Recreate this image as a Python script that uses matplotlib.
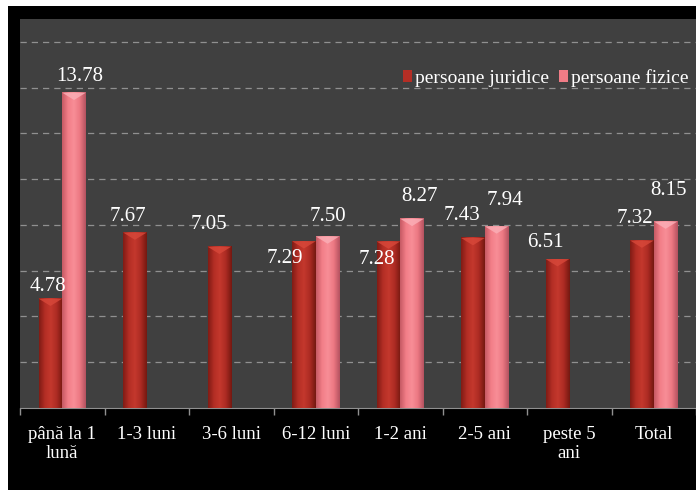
import numpy as np
import matplotlib.pyplot as plt
from matplotlib.colors import LinearSegmentedColormap
from matplotlib.patches import Rectangle, Polygon

categorii = ['până la 1\nlună', '1-3 luni', '3-6 luni', '6-12 luni',
             '1-2 ani', '2-5 ani', 'peste 5\nani', 'Total']
juridice = [4.78, 7.67, 7.05, 7.29, 7.28, 7.43, 6.51, 7.32]
fizice = [13.78, np.nan, np.nan, 7.50, 8.27, 7.94, np.nan, 8.15]
serii = ['persoane juridice', 'persoane fizice']

# pozitia etichetelor fata de varful barei (pixeli)
off_jur = [(-2, 12), (-7, 16), (-10, 22), (-19, -17), (-12, -18), (-11, 22), (-12, 17), (-7, 22)]
off_fiz = [(6, 16), None, None, (0, 20), (7, 22), (8, 26), None, (3, 31)]

plt.rcParams['font.family'] = ['Liberation Serif', 'DejaVu Serif']

fig = plt.figure(figsize=(6.96, 4.90), dpi=100, facecolor='white')
fig.patches.append(Rectangle((8 / 696, 0), 1 - 8 / 696, 484 / 490, transform=fig.transFigure,
                             facecolor='black', edgecolor='none', zorder=-5))
ax = fig.add_axes([20 / 696, 82 / 490, 676 / 696, 389 / 490])
ax.set_zorder(2)
ax.set_facecolor('#404040')

x = np.arange(len(categorii))
w = 0.28
b1 = ax.bar(x - w / 2, juridice, w, color='#b42e25', label=serii[0], zorder=2)
b2 = ax.bar(x + w / 2, fizice, w, color='#f07c86', label=serii[1], zorder=2)

cm_jur = LinearSegmentedColormap.from_list('j', ['#801c15', '#b42e25', '#c4382d', '#ac2b23', '#741811'])
cm_fiz = LinearSegmentedColormap.from_list('f', ['#c65a64', '#f27e88', '#f88e97', '#ec7882', '#b45260'])
grad = np.linspace(0, 1, 64).reshape(1, -1)

for bars, cm, cap in [(b1, cm_jur, '#d8483a'), (b2, cm_fiz, '#fbb0b8')]:
    for p in bars:
        h = p.get_height()
        if np.isnan(h):
            continue
        x0, x1 = p.get_x(), p.get_x() + p.get_width()
        ax.imshow(grad, extent=[x0, x1, 0, h], aspect='auto', cmap=cm, zorder=3)
        ax.add_patch(Polygon([(x0, h), (x1, h), ((x0 + x1) / 2, h - 0.32)],
                             closed=True, facecolor=cap, edgecolor='none', alpha=0.8, zorder=4))

for i in range(len(categorii)):
    ax.annotate(f'{juridice[i]:.2f}', (x[i] - w / 2, juridice[i]), xytext=off_jur[i],
                textcoords='offset pixels', ha='center', va='center', color='white', fontsize=15)
    if off_fiz[i] is not None:
        ax.annotate(f'{fizice[i]:.2f}', (x[i] + w / 2, fizice[i]), xytext=off_fiz[i],
                    textcoords='offset pixels', ha='center', va='center', color='white', fontsize=15)

ax.set_xlim(-0.5, len(categorii) - 0.5)
ax.set_ylim(0, 17)
ax.set_yticks(np.arange(2, 17, 2))
ax.yaxis.grid(True, linestyle=(0, (5, 4)), color='#909090', linewidth=0.9)
ax.set_axisbelow(True)
ax.tick_params(axis='y', left=False, labelleft=False)

ax.set_xticks(x)
ax.set_xticklabels(categorii, color='white', fontsize=13.5, linespacing=1.15)
ax.set_xticks(np.arange(-0.5, len(categorii)), minor=True)
ax.tick_params(axis='x', which='major', length=0, pad=13)
ax.tick_params(axis='x', which='minor', length=5, color='#909090', width=1)

for s in ['top', 'right', 'left']:
    ax.spines[s].set_visible(False)
ax.spines['bottom'].set_color('#909090')

leg = ax.legend(loc='center left', bbox_to_anchor=(0.555, 0.848), ncol=2, frameon=False,
                handlelength=0.45, handleheight=0.6, handletextpad=0.15, columnspacing=0.55,
                fontsize=14, labelcolor='white', borderaxespad=0)

fig.savefig('out.png', dpi=100, facecolor=fig.get_facecolor())
